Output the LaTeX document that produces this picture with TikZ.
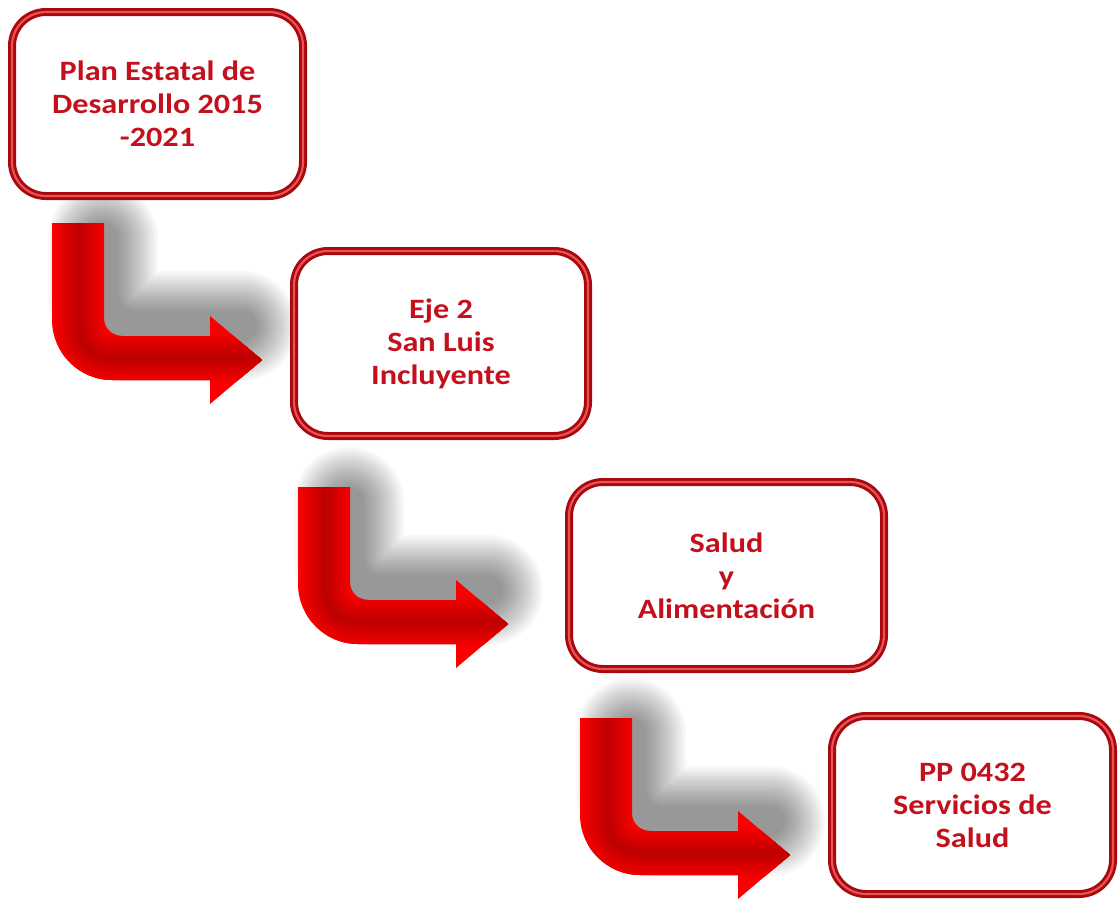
\documentclass[tikz,border=0pt]{standalone}
\usepackage{fontspec}
\newfontfamily\boxfont{Carlito}[FakeStretch=1.15]
\definecolor{txtred}{RGB}{196,16,28}
\definecolor{brdark}{RGB}{168,8,14}
\definecolor{brlight}{RGB}{232,84,84}
\definecolor{arr0}{RGB}{250,0,0}
\definecolor{arr4}{RGB}{190,0,0}
\tikzset{
  stepbox/.style={rounded corners=34pt, draw=brdark, line width=8pt, fill=white,
    align=center, text=txtred, inner sep=0pt,
    font=\boxfont\bfseries\fontsize{28}{33}\selectfont,
    postaction={draw=brlight, line width=2.2pt}},
  bentarrow/.style={insert path={(0,0) -- (52,0) -- (52,95)
    .. controls (52,105) and (60,113) .. (70,113) -- (158,113) -- (158,93)
    -- (210,137) -- (158,181) -- (158,157) -- (60,157)
    .. controls (27,157) and (0,130) .. (0,97) -- cycle}},
  shadowline/.style={insert path={(27,47) -- (27,100)
    .. controls (27,122) and (40,135) .. (62,135) -- (166,135)}},
  shadowstroke/.style={black, line cap=round, line join=round, opacity=0.026},
}
\begin{document}
\begin{tikzpicture}[x=1pt,y=-1pt]
\useasboundingbox (0,0) rectangle (1118,903);
\fill[white] (0,0) rectangle (1118,903);
\coordinate (a1) at (52,223);
\coordinate (a2) at (298,487);
\coordinate (a3) at (580,718);
% shadows
\foreach \a in {a1,a2,a3}{
  \begin{scope}[shift={(\a)}, shift={(24,-32)}]
    \foreach \i in {0,...,16}{
      \pgfmathsetmacro{\w}{110-5*\i}
      \draw[shadowstroke, line width=\w pt, shadowline];
    }
  \end{scope}
}
% boxes
\node[stepbox, minimum width=291pt, minimum height=184pt] (b1) at (157.5,104)
  {Plan Estatal de\\Desarrollo 2015\\-2021};
\node[stepbox, minimum width=294pt, minimum height=185pt] (b2) at (441,343.5)
  {Eje 2\\San Luis\\Incluyente};
\node[stepbox, minimum width=315pt, minimum height=187pt] (b3) at (726.5,575.5)
  {Salud\\y\\Alimentación};
\node[stepbox, minimum width=281pt, minimum height=178pt] (b4) at (972.5,805)
  {PP 0432\\Servicios de\\Salud};
% arrows
\foreach \a in {a1,a2,a3}{
  \begin{scope}[shift={(\a)}]
    \fill[arr0, bentarrow];
    \begin{scope}
      \clip[bentarrow];
      \foreach \i in {1,...,12}{
        \pgfmathsetmacro{\w}{52-4*\i}
        \pgfmathtruncatemacro{\p}{8*\i+4}
        \draw[line width=\w pt, arr4!\p!arr0] (27,0) -- (27,100)
          .. controls (27,122) and (40,135) .. (62,135) -- (215,135);
      }
    \end{scope}
  \end{scope}
}
\end{tikzpicture}
\end{document}
